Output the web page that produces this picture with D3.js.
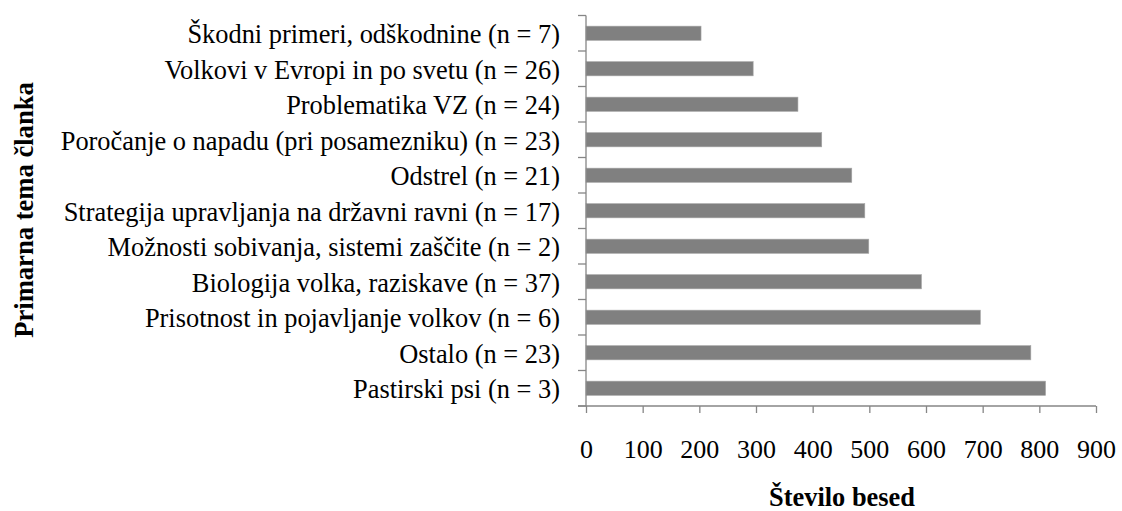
<!DOCTYPE html>
<html>
<head>
<meta charset="utf-8">
<script src="https://cdn.jsdelivr.net/npm/d3@7"></script>
<style>
  html, body { margin: 0; padding: 0; background: #fff; }
  svg { display: block; }
  svg text { font-family: "Liberation Serif", "Times New Roman", serif; }
</style>
</head>
<body>
<svg id="chart" width="1122" height="511"></svg>
<script>
const categories = [
  "Škodni primeri, odškodnine (n = 7)",
  "Volkovi v Evropi in po svetu (n = 26)",
  "Problematika VZ (n = 24)",
  "Poročanje o napadu (pri posamezniku) (n = 23)",
  "Odstrel (n = 21)",
  "Strategija upravljanja na državni ravni (n = 17)",
  "Možnosti sobivanja, sistemi zaščite (n = 2)",
  "Biologija volka, raziskave (n = 37)",
  "Prisotnost in pojavljanje volkov (n = 6)",
  "Ostalo (n = 23)",
  "Pastirski psi (n = 3)"
];
const values = [203, 295, 374, 416, 469, 492, 499, 592, 696, 785, 811];
const xTicks = [0, 100, 200, 300, 400, 500, 600, 700, 800, 900];
const xTitle = "Število besed";
const yTitle = "Primarna tema članka";

const svg = d3.select("#chart");
const pLeft = 586, pRight = 1096, pTop = 15.5, pBottom = 406;
const fs = 26.4;
const axisColor = "#868686";

const x = d3.scaleLinear().domain([0, 900]).range([pLeft, pRight]);
const y = d3.scaleBand().domain(categories).range([pTop, pBottom]).paddingInner(0.6).paddingOuter(0.3);

// bars
svg.append("g").selectAll("rect").data(values).enter().append("rect")
  .attr("x", x(0))
  .attr("y", (d, i) => y(categories[i]))
  .attr("width", d => x(d) - x(0))
  .attr("height", y.bandwidth())
  .attr("fill", "#808080")
  .attr("stroke", "#a6a6a6")
  .attr("stroke-width", 0.6);

// y axis: line + ticks between bands
const step = (pBottom - pTop) / categories.length;
const gy = svg.append("g");
gy.append("line").attr("x1", pLeft).attr("x2", pLeft).attr("y1", pTop).attr("y2", pBottom)
  .attr("stroke", axisColor).attr("stroke-width", 1.3);
d3.range(categories.length + 1).forEach(i => {
  const yy = pTop + i * step;
  gy.append("line").attr("x1", pLeft - 8).attr("x2", pLeft).attr("y1", yy).attr("y2", yy)
    .attr("stroke", axisColor).attr("stroke-width", 1.3);
});
gy.selectAll("text").data(categories).enter().append("text")
  .attr("x", 560)
  .attr("y", d => y(d) + y.bandwidth() / 2)
  .attr("dy", "0.38em")
  .attr("text-anchor", "end")
  .attr("font-size", fs)
  .attr("fill", "#000")
  .text(d => d);

// x axis
const xAxis = d3.axisBottom(x).tickValues(xTicks).tickSize(7).tickPadding(27).tickFormat(d3.format("d"));
const gx = svg.append("g").attr("transform", `translate(0,${pBottom})`).call(xAxis);
gx.attr("font-family", null);
gx.select(".domain").attr("stroke", axisColor).attr("stroke-width", 1.3)
  .attr("d", `M${pLeft - 8},0H${pRight}`);
gx.selectAll(".tick line").attr("stroke", axisColor).attr("stroke-width", 1.3);
gx.selectAll(".tick text").attr("font-size", 26).attr("fill", "#000");

// titles
svg.append("text")
  .attr("x", 842)
  .attr("y", 506)
  .attr("text-anchor", "middle")
  .attr("font-size", 26.4)
  .attr("font-weight", "bold")
  .text(xTitle);

svg.append("text")
  .attr("transform", `translate(33,210) rotate(-90)`)
  .attr("text-anchor", "middle")
  .attr("font-size", 26.6)
  .attr("font-weight", "bold")
  .text(yTitle);
</script>
</body>
</html>
